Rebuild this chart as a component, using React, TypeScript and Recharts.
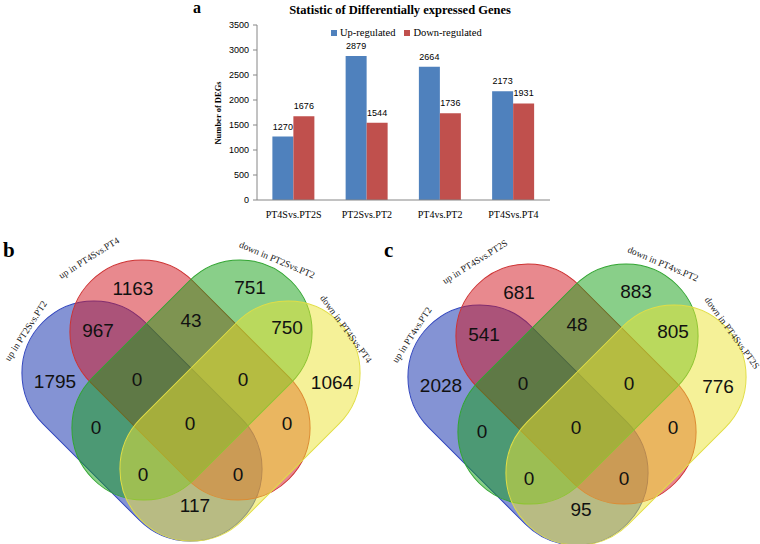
import React from "react";
import {
  BarChart,
  Bar,
  XAxis,
  YAxis,
  Legend,
  LabelList,
  ScatterChart,
  Scatter,
} from "recharts";

// ---- panel a data ----
const categories = ["PT4Svs.PT2S", "PT2Svs.PT2", "PT4vs.PT2", "PT4Svs.PT4"];
const upRegulated = [1270, 2879, 2664, 2173];
const downRegulated = [1676, 1544, 1736, 1931];
const yTicks = [0, 500, 1000, 1500, 2000, 2500, 3000, 3500];
const seriesNames = ["Up-regulated", "Down-regulated"];

// ---- panel b / c data (region order: A, B, C, D, AB, BC, CD, ABC, BCD, AC, ABCD, BD, ACD, ABD, AD) ----
const vennBNames = ["up in PT2Svs.PT2", "up in PT4Svs.PT4", "down in PT2Svs.PT2", "down in PT4Svs.PT4"];
const vennBCounts = [1795, 1163, 751, 1064, 967, 43, 750, 0, 0, 0, 0, 0, 0, 0, 117];
const vennCNames = ["up in PT4vs.PT2", "up in PT4Svs.PT2S", "down in PT4vs.PT2", "down in PT4Svs.PT2S"];
const vennCCounts = [2028, 681, 883, 776, 541, 48, 805, 0, 0, 0, 0, 0, 0, 0, 95];

// venn layout (chart units, 380 x 299 box)
const VENN_W = 380;
const VENN_H = 299;
const VENN_PAD = 16;
const CAP_R = 72;
const CAP_H = 68;
const SET_LAYOUT = [
  { x: 142, y: 176, angle: 45, fill: "rgb(10,40,170)", stroke: "rgb(50,70,190)" },
  { x: 190, y: 135, angle: 45, fill: "rgb(210,20,30)", stroke: "rgb(205,50,50)" },
  { x: 192, y: 135, angle: -45, fill: "rgb(20,160,20)", stroke: "rgb(50,165,50)" },
  { x: 240, y: 176, angle: -45, fill: "rgb(235,228,50)", stroke: "rgb(225,222,70)" },
];
const NAME_LAYOUT = [
  { x: 26, y: 86, angle: -57 },
  { x: 89, y: 13, angle: -32 },
  { x: 277, y: 15, angle: 23 },
  { x: 346, y: 84, angle: 54 },
];
const REGION_LAYOUT = [
  { x: 55, y: 136 }, { x: 133, y: 43 }, { x: 250, y: 42 }, { x: 332, y: 137 },
  { x: 98, y: 85 }, { x: 191, y: 75 }, { x: 287, y: 82 },
  { x: 137, y: 134 }, { x: 243, y: 134 },
  { x: 96, y: 182 }, { x: 190, y: 178 }, { x: 287, y: 178 },
  { x: 143, y: 229 }, { x: 238, y: 229 },
  { x: 195, y: 260 },
];

const barData = categories.map((c, i) => ({ name: c, up: upRegulated[i], down: downRegulated[i] }));

const serif = "'Liberation Serif', 'DejaVu Serif', serif";
const sans = "'Liberation Sans', Arial, sans-serif";

function LegendBox({ payload }: any) {
  const items = [...(payload || [])].sort((a: any, b: any) => seriesNames.indexOf(a.value) - seriesNames.indexOf(b.value));
  return (
    <div style={{ display: "flex", alignItems: "center", fontFamily: serif, fontSize: 10.5, color: "#000", lineHeight: "12px" }}>
      {items.map((e: any) => (
        <span key={e.value} style={{ display: "flex", alignItems: "center", marginRight: 9 }}>
          <span style={{ width: 6, height: 6, background: e.color, marginRight: 3, display: "inline-block" }} />
          {e.value}
        </span>
      ))}
    </div>
  );
}

function Venn({ counts, names, left, top }: { counts: number[]; names: string[]; left: number; top: number }) {
  const k = VENN_W / VENN_W;
  const sets = SET_LAYOUT.map((s, i) => ({ ...s, name: names[i] }));
  const nameData = NAME_LAYOUT.map((p, i) => ({ ...p, name: names[i] }));
  const regions = REGION_LAYOUT.map((p, i) => ({ ...p, count: counts[i] }));

  const capsule = (p: any) => {
    const { cx, cy, payload } = p;
    const r = CAP_R * k;
    const h = CAP_H * k;
    return (
      <rect
        x={cx - h - r}
        y={cy - r}
        width={2 * (h + r)}
        height={2 * r}
        rx={r}
        ry={r}
        transform={`rotate(${payload.angle} ${cx} ${cy})`}
        fill={payload.fill}
        fillOpacity={0.5}
        stroke={payload.stroke}
        strokeWidth={1}
      />
    );
  };
  const countText = (p: any) => (
    <text x={p.cx} y={p.cy} textAnchor="middle" dominantBaseline="central" fontSize={19} fontFamily={sans} fill="#111">
      {p.payload.count}
    </text>
  );
  const nameText = (p: any) => (
    <text
      x={p.cx}
      y={p.cy}
      textAnchor="middle"
      dominantBaseline="central"
      fontSize={9.5}
      fontFamily={serif}
      fill="#222"
      transform={`rotate(${p.payload.angle} ${p.cx} ${p.cy})`}
    >
      {p.payload.name}
    </text>
  );

  return (
    <div style={{ position: "absolute", left, top: top - VENN_PAD }}>
      <ScatterChart width={VENN_W} height={VENN_H + VENN_PAD} margin={{ top: VENN_PAD, right: 0, bottom: 0, left: 0 }}>
        <XAxis type="number" dataKey="x" domain={[0, VENN_W]} hide />
        <YAxis type="number" dataKey="y" domain={[0, VENN_H]} reversed hide />
        <Scatter data={sets} shape={capsule} isAnimationActive={false} />
        <Scatter data={regions} shape={countText} isAnimationActive={false} />
        <Scatter data={nameData} shape={nameText} isAnimationActive={false} />
      </ScatterChart>
    </div>
  );
}

export default function App() {
  return (
    <div style={{ position: "absolute", left: 0, top: 0, width: 760, height: 544, background: "#fff", overflow: "hidden" }}>
      <div style={{ position: "absolute", left: 193, top: 0, fontFamily: serif, fontWeight: "bold", fontSize: 16, lineHeight: "16px" }}>a</div>
      <div
        style={{
          position: "absolute",
          left: 400,
          top: 10,
          transform: "translate(-50%, -50%)",
          whiteSpace: "nowrap",
          fontFamily: serif,
          fontWeight: "bold",
          fontSize: 12.5,
        }}
      >
        Statistic of Differentially expressed Genes
      </div>
      <div
        style={{
          position: "absolute",
          left: 218,
          top: 113,
          transform: "translate(-50%, -50%) rotate(-90deg)",
          whiteSpace: "nowrap",
          fontFamily: serif,
          fontWeight: "bold",
          fontSize: 8.5,
        }}
      >
        Number of DEGs
      </div>
      <div style={{ position: "absolute", left: 0, top: 0 }}>
        <BarChart
          width={760}
          height={235}
          data={barData}
          margin={{ top: 25, right: 210, bottom: 5, left: 217 }}
          barCategoryGap="21%"
          barGap={0}
        >
          <XAxis
            dataKey="name"
            height={30}
            tickLine={false}
            tickSize={0}
            tickMargin={11}
            axisLine={{ stroke: "#868686" }}
            tick={{ fontSize: 10, fill: "#000", fontFamily: serif }}
            interval={0}
          />
          <YAxis
            width={40}
            domain={[0, 3500]}
            ticks={yTicks}
            tickSize={4}
            tickMargin={4}
            axisLine={{ stroke: "#868686" }}
            tickLine={{ stroke: "#868686" }}
            tick={{ fontSize: 9, fill: "#000", fontFamily: sans }}
          />
          <Legend
            layout="horizontal"
            verticalAlign="middle"
            align="center"
            content={<LegendBox />}
            wrapperStyle={{ position: "absolute", left: 331, top: 27, width: "auto" }}
          />
          <Bar dataKey="up" name={seriesNames[0]} fill="#4F81BD" isAnimationActive={false}>
            <LabelList dataKey="up" position="top" offset={7} fontSize={9} fill="#000" fontFamily={sans} />
          </Bar>
          <Bar dataKey="down" name={seriesNames[1]} fill="#C0504D" isAnimationActive={false}>
            <LabelList dataKey="down" position="top" offset={7} fontSize={9} fill="#000" fontFamily={sans} />
          </Bar>
        </BarChart>
      </div>

      <div style={{ position: "absolute", left: 3, top: 238, fontFamily: serif, fontWeight: "bold", fontSize: 21 }}>b</div>
      <div style={{ position: "absolute", left: 384, top: 238, fontFamily: serif, fontWeight: "bold", fontSize: 21 }}>c</div>
      <Venn counts={vennBCounts} names={vennBNames} left={0} top={245} />
      <Venn counts={vennCCounts} names={vennCNames} left={386} top={249} />
    </div>
  );
}
